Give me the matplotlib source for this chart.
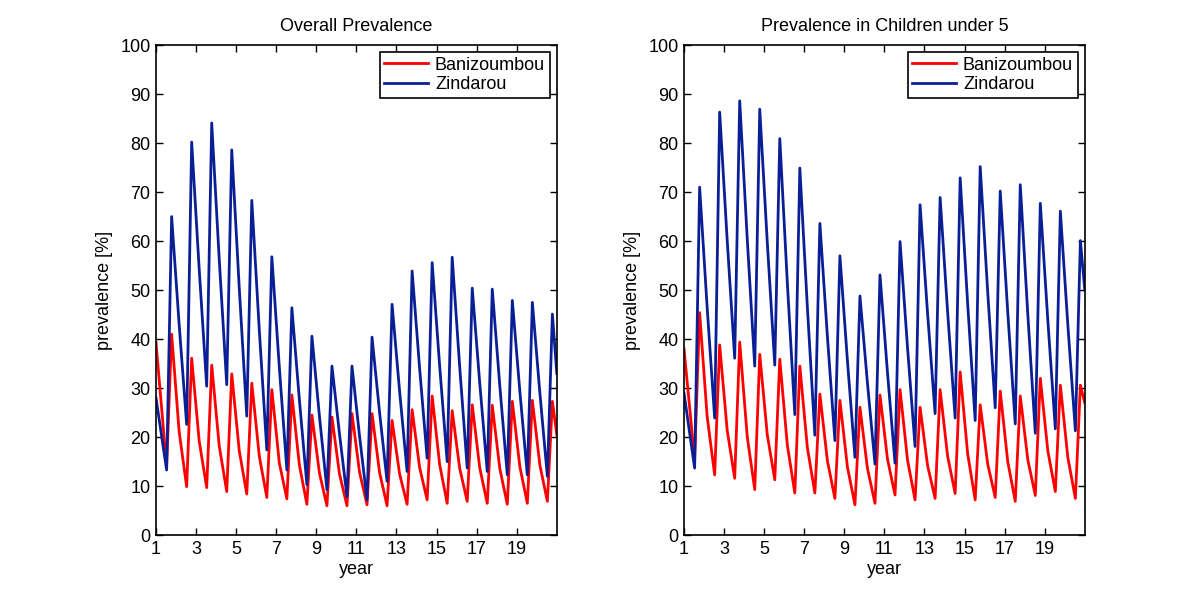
import matplotlib
matplotlib.use('Agg')
import matplotlib.pyplot as plt
import numpy as np

plt.rcParams['font.family'] = ['Liberation Sans', 'DejaVu Sans']
plt.rcParams['font.size'] = 13

# each year: trough at year+0.53, peak at year+0.78, mid-decay at year+1.155
years = np.arange(1, 21)
t_start, t_end = 1.0, 21.0

# Overall prevalence
all_ban_peak = [41.0, 36.1, 34.7, 32.9, 31.0, 29.7, 28.6, 24.5, 24.1, 24.8,
                24.8, 23.4, 25.6, 28.4, 25.4, 26.6, 26.5, 27.3, 27.5, 27.3]
all_ban_trough = [14.0, 9.9, 9.7, 8.9, 8.4, 7.7, 7.4, 6.3, 6.0, 6.0,
                  6.2, 6.0, 6.3, 7.2, 6.5, 6.9, 6.5, 6.3, 6.5, 6.9]
all_ban_mid = [21.1, 19.2, 18.2, 17.2, 16.1, 14.7, 14.3, 12.7, 12.5, 12.9,
               12.8, 12.5, 13.8, 14.4, 13.6, 13.7, 13.6, 14.0, 14.3]
all_ban_ends = [39.3, 20.5]

all_zin_peak = [65.0, 80.2, 84.1, 78.6, 68.3, 56.8, 46.4, 40.6, 34.5, 34.5,
                40.4, 47.1, 53.9, 55.6, 56.7, 50.4, 50.2, 47.9, 47.5, 45.1]
all_zin_trough = [13.3, 22.6, 30.4, 30.7, 24.3, 17.4, 13.3, 10.3, 9.3, 7.9,
                  7.2, 11.0, 13.0, 15.7, 15.0, 13.7, 13.0, 12.3, 12.3, 12.0]
all_zin_mid = [43.0, 54.3, 56.3, 50.4, 41.8, 34.2, 27.6, 24.3, 20.7, 20.3,
               25.1, 29.4, 34.0, 34.5, 34.3, 31.0, 30.5, 29.4, 29.0]
all_zin_ends = [28.0, 33.0]

# Children under 5
u5_ban_peak = [45.4, 38.8, 39.4, 36.9, 35.9, 34.5, 28.8, 27.5, 26.1, 28.6,
               29.7, 26.1, 29.7, 33.3, 26.6, 29.4, 28.4, 32.0, 30.6, 30.6]
u5_ban_trough = [15.5, 12.3, 11.6, 9.3, 11.3, 8.6, 8.6, 7.5, 6.2, 6.5,
                 8.2, 7.2, 7.5, 8.5, 7.2, 7.7, 6.9, 8.1, 8.9, 7.5]
u5_ban_mid = [24.2, 21.4, 20.1, 20.5, 18.4, 17.9, 15.2, 13.9, 13.6, 15.5,
              15.3, 14.2, 16.1, 16.6, 14.5, 15.0, 15.4, 17.2, 15.8]
u5_ban_ends = [38.0, 27.0]

u5_zin_peak = [71.0, 86.3, 88.6, 86.9, 80.9, 74.9, 63.6, 57.0, 48.8, 53.1,
               59.9, 67.4, 68.9, 72.9, 75.2, 70.2, 71.5, 67.7, 66.1, 60.1]
u5_zin_trough = [13.7, 23.9, 36.1, 34.5, 34.7, 24.6, 20.4, 19.3, 15.9, 14.5,
                 14.7, 18.1, 24.8, 23.9, 23.4, 26.0, 22.7, 20.8, 21.7, 21.3]
u5_zin_mid = [46.5, 60.2, 60.5, 59.8, 51.6, 46.6, 40.6, 35.6, 31.0, 33.1,
              38.2, 45.2, 45.5, 47.2, 49.6, 45.5, 45.1, 43.8, 42.8]
u5_zin_ends = [29.0, 50.0]


def series(peak, trough, mid, ends):
    t = [t_start]
    v = [ends[0]]
    for i, y in enumerate(years):
        t += [y + 0.53, y + 0.78]
        v += [trough[i], peak[i]]
        if i < len(mid):
            t.append(y + 1.155)
            v.append(mid[i])
    t.append(t_end)
    v.append(ends[1])
    return t, v


red = '#ff0000'
blue = '#0a1f96'

fig = plt.figure(figsize=(12, 6), dpi=100)
ax1 = fig.add_axes([0.13, 0.108, 0.334, 0.817])
ax2 = fig.add_axes([0.57, 0.108, 0.334, 0.817])

panels = [
    (ax1, 'Overall Prevalence',
     (all_ban_peak, all_ban_trough, all_ban_mid, all_ban_ends),
     (all_zin_peak, all_zin_trough, all_zin_mid, all_zin_ends)),
    (ax2, 'Prevalence in Children under 5',
     (u5_ban_peak, u5_ban_trough, u5_ban_mid, u5_ban_ends),
     (u5_zin_peak, u5_zin_trough, u5_zin_mid, u5_zin_ends)),
]

for ax, title, ban, zin in panels:
    t, v = series(*ban)
    ax.plot(t, v, color=red, lw=2.0, label='Banizoumbou')
    t, v = series(*zin)
    ax.plot(t, v, color=blue, lw=2.0, label='Zindarou')
    ax.set_xlim(1, 21)
    ax.set_ylim(0, 100)
    ax.set_xticks(range(1, 20, 2))
    ax.set_yticks(range(0, 101, 10))
    ax.tick_params(direction='in', top=True, right=True, length=5, width=1,
                   labelsize=13, pad=4)
    for s in ax.spines.values():
        s.set_linewidth(1.2)
    ax.set_title(title, fontsize=13, pad=10)
    ax.set_xlabel('year', fontsize=13, labelpad=2)
    ax.set_ylabel('prevalence [%]', fontsize=13, labelpad=5)
    leg = ax.legend(loc='upper right', fancybox=False, edgecolor='black',
                    framealpha=1, fontsize=13, handlelength=2.4,
                    borderaxespad=0.4, borderpad=0.25, labelspacing=0.15,
                    handletextpad=0.4)
    leg.get_frame().set_linewidth(1.2)

fig.savefig('out.png', dpi=100)
